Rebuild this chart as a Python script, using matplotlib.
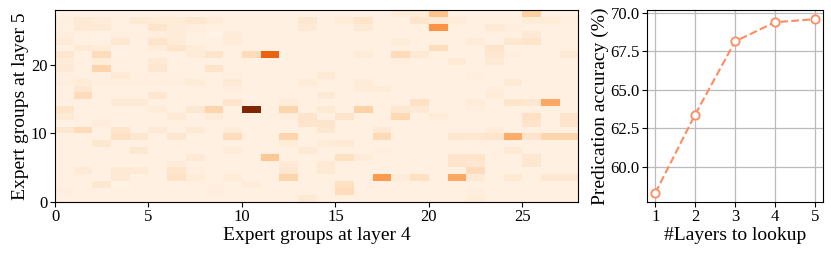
import numpy as np
import matplotlib.pyplot as plt

plt.rcParams['font.family'] = ['Liberation Serif', 'DejaVu Serif']

# co-activation counts, top row (layer 5 group 27) first
heat_rows = [
    [3, 3, 3, 3, 3, 3, 3, 3, 3, 3, 3, 3, 3, 3, 3, 3, 3, 3, 8, 8, 30, 3, 3, 3, 3, 25, 3, 3],
    [5, 10, 8, 4, 10, 8, 8, 12, 8, 4, 4, 4, 4, 12, 4, 8, 14, 4, 4, 14, 10, 8, 4, 4, 4, 8, 8, 5],
    [4, 10, 10, 4, 4, 14, 8, 6, 4, 4, 4, 4, 4, 10, 4, 4, 10, 4, 4, 4, 48, 4, 4, 10, 6, 4, 4, 4],
    [6, 4, 3, 5, 5, 6, 8, 4, 2, 8, 4, 4, 4, 4, 4, 4, 4, 4, 4, 4, 4, 4, 4, 4, 4, 10, 4, 4],
    [9, 4, 4, 12, 4, 14, 8, 4, 4, 8, 4, 4, 4, 4, 4, 4, 4, 4, 8, 4, 4, 4, 8, 4, 12, 14, 4, 4],
    [4, 10, 8, 4, 4, 8, 14, 8, 4, 4, 4, 4, 4, 4, 4, 4, 4, 4, 4, 4, 18, 4, 4, 14, 4, 4, 4, 4],
    [12, 4, 18, 3, 4, 4, 4, 8, 14, 4, 18, 65, 4, 4, 4, 4, 8, 4, 18, 10, 4, 4, 4, 12, 6, 4, 4, 10],
    [8, 4, 8, 4, 4, 10, 4, 4, 4, 4, 4, 4, 4, 4, 4, 4, 4, 4, 6, 4, 4, 10, 4, 10, 4, 4, 4, 4],
    [10, 4, 22, 4, 4, 12, 4, 4, 14, 4, 4, 4, 4, 4, 4, 4, 4, 4, 4, 4, 4, 4, 4, 4, 4, 4, 4, 4],
    [5, 5, 5, 10, 5, 5, 5, 4, 4, 6, 4, 4, 4, 4, 10, 4, 4, 4, 4, 4, 4, 4, 6, 4, 4, 4, 4, 4],
    [6, 8, 6, 6, 6, 6, 6, 8, 4, 10, 4, 4, 4, 8, 4, 4, 8, 4, 4, 4, 4, 4, 4, 4, 10, 4, 4, 4],
    [4, 12, 4, 4, 4, 4, 4, 4, 4, 6, 4, 4, 4, 4, 4, 4, 8, 8, 4, 4, 4, 4, 4, 6, 4, 4, 4, 4],
    [4, 18, 4, 4, 4, 12, 4, 4, 4, 4, 3, 4, 4, 4, 10, 4, 4, 4, 4, 4, 4, 4, 4, 8, 4, 4, 4, 4],
    [4, 4, 4, 10, 10, 4, 4, 4, 4, 14, 4, 4, 8, 4, 4, 4, 4, 4, 4, 16, 4, 4, 8, 4, 14, 12, 40, 4],
    [14, 4, 4, 4, 4, 8, 4, 12, 22, 4, 100, 4, 22, 4, 10, 4, 24, 4, 12, 10, 4, 4, 6, 4, 4, 4, 4, 4],
    [10, 4, 4, 4, 4, 4, 10, 4, 8, 4, 4, 4, 6, 14, 4, 14, 4, 4, 20, 4, 8, 4, 4, 4, 4, 16, 4, 14],
    [3, 4, 8, 4, 4, 4, 4, 4, 4, 4, 4, 4, 4, 14, 14, 4, 4, 4, 4, 4, 4, 4, 4, 4, 4, 14, 4, 14],
    [12, 18, 4, 14, 4, 10, 4, 10, 4, 8, 4, 4, 4, 4, 12, 4, 4, 10, 4, 4, 4, 4, 4, 8, 4, 4, 4, 4],
    [4, 4, 4, 16, 12, 4, 12, 4, 4, 18, 4, 4, 22, 4, 4, 4, 4, 20, 4, 4, 4, 12, 12, 14, 38, 14, 22, 22],
    [4, 4, 12, 4, 4, 4, 4, 4, 4, 4, 4, 4, 8, 4, 8, 10, 4, 4, 4, 4, 4, 4, 5, 4, 4, 4, 4, 4],
    [4, 4, 4, 4, 12, 4, 4, 4, 4, 8, 4, 4, 4, 10, 4, 4, 4, 6, 4, 4, 4, 4, 4, 4, 10, 4, 4, 4],
    [4, 4, 4, 4, 4, 4, 4, 10, 4, 4, 4, 28, 4, 4, 4, 16, 8, 4, 4, 4, 4, 14, 14, 4, 4, 12, 4, 4],
    [4, 4, 4, 4, 4, 4, 8, 4, 4, 4, 4, 4, 10, 4, 10, 4, 4, 4, 4, 4, 4, 14, 12, 4, 4, 12, 4, 4],
    [4, 9, 4, 10, 10, 4, 14, 6, 4, 4, 4, 4, 12, 4, 10, 4, 4, 4, 4, 4, 4, 4, 18, 4, 4, 4, 4, 4],
    [4, 4, 4, 10, 4, 4, 15, 8, 4, 8, 4, 4, 22, 4, 4, 4, 4, 45, 8, 16, 4, 40, 10, 4, 10, 4, 12, 12],
    [4, 4, 12, 2, 4, 4, 4, 4, 4, 4, 8, 4, 4, 4, 4, 16, 4, 4, 4, 4, 4, 4, 4, 4, 4, 4, 4, 4],
    [6, 4, 4, 4, 4, 4, 4, 4, 6, 4, 4, 4, 4, 4, 4, 18, 4, 4, 4, 4, 4, 4, 6, 4, 4, 4, 4, 4],
    [4, 4, 4, 4, 4, 4, 4, 4, 4, 4, 4, 4, 4, 10, 4, 4, 4, 4, 4, 4, 4, 4, 8, 4, 4, 4, 4, 4],
]
heat = np.array(heat_rows)[::-1]

layers = [1, 2, 3, 4, 5]
accuracy = [58.3, 63.4, 68.15, 69.4, 69.6]

fig = plt.figure(figsize=(8.31, 2.56), dpi=100)
ax1 = fig.add_axes([0.0662, 0.2125, 0.6298, 0.7465])
ax2 = fig.add_axes([0.779, 0.2125, 0.211, 0.7465])

n = heat.shape[0]
ax1.pcolormesh(np.arange(n + 1), np.arange(n + 1), heat, cmap='Oranges',
               vmin=0, vmax=heat.max())
ax1.set_xlim(0, n)
ax1.set_ylim(0, n)
ax1.set_xticks([0, 5, 10, 15, 20, 25])
ax1.set_yticks([0, 10, 20])
ax1.set_xlabel('Expert groups at layer 4', fontsize=14, labelpad=1)
ax1.set_ylabel('Expert groups at layer 5', fontsize=14, labelpad=1)
ax1.tick_params(labelsize=12, pad=2)

ax2.plot(layers, accuracy, '--o', color='#fc8d62', lw=1.5, markersize=6,
         markerfacecolor='white', markeredgewidth=1.3)
ax2.grid(True, color='#bbbbbb', lw=0.9)
ax2.set_axisbelow(True)
ax2.set_xticks(layers)
ax2.set_yticks([60.0, 62.5, 65.0, 67.5, 70.0])
ax2.yaxis.set_major_formatter(plt.FormatStrFormatter('%.1f'))
ax2.set_xlabel('#Layers to lookup', fontsize=14, labelpad=1)
ax2.set_ylabel('Predication accuracy (%)', fontsize=14, labelpad=1)
ax2.tick_params(labelsize=12, pad=2)

fig.savefig('out.png', dpi=100)
